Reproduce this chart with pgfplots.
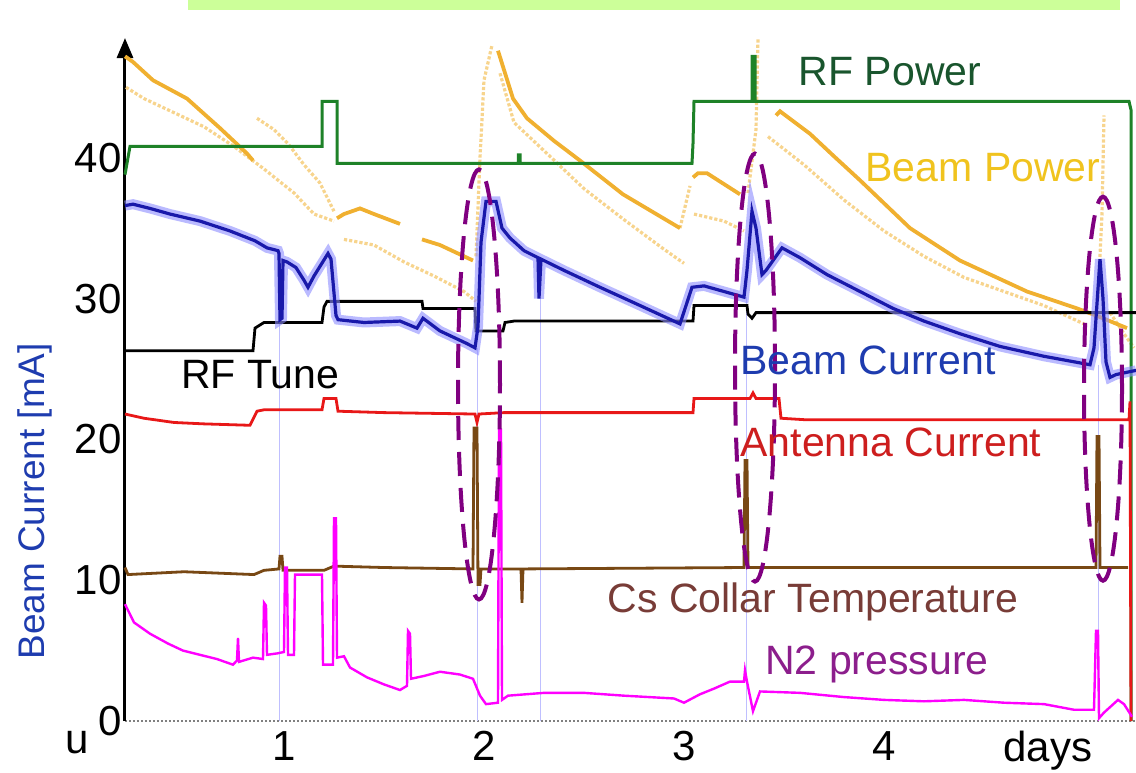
\documentclass[border=0pt]{standalone}
\usepackage{pgfplots}
\usepackage{pgfplotstable}
\pgfplotsset{compat=1.18}
\usepackage{fontspec}
\setmainfont{Liberation Sans}
\usetikzlibrary{arrows.meta}

\definecolor{rfpow}{RGB}{30,130,40}
\definecolor{rfpowtxt}{RGB}{25,85,45}
\definecolor{bpow}{RGB}{240,176,48}
\definecolor{bpowtxt}{RGB}{240,195,30}
\definecolor{bcur}{RGB}{25,25,170}
\definecolor{bcurtxt}{RGB}{30,60,175}
\definecolor{ant}{RGB}{232,24,24}
\definecolor{anttxt}{RGB}{205,30,30}
\definecolor{cs}{RGB}{120,72,20}
\definecolor{cstxt}{RGB}{120,60,55}
\definecolor{ntwo}{RGB}{255,0,255}
\definecolor{ntwotxt}{RGB}{140,30,140}
\definecolor{ell}{RGB}{128,0,128}
\definecolor{topbar}{RGB}{204,255,153}

% beam current [mA] vs days
\pgfplotstableread{
d v
0.205 36.6
0.245 36.7
0.33 36.4
0.43 36.0
0.58 35.5
0.73 34.8
0.855 34.1
0.915 33.6
0.97 33.4
0.975 33.2
0.98 28.5
0.99 28.6
0.995 32.7
1.015 32.6
1.06 32.2
1.1 31.3
1.12 30.8
1.15 31.6
1.22 33.2
1.235 32.8
1.26 28.8
1.27 28.5
1.4 28.3
1.58 28.4
1.665 27.9
1.695 28.6
1.78 27.7
1.915 26.8
1.955 26.5
1.97 28.0
1.985 34.0
2.01 36.9
2.06 36.9
2.09 35.0
2.13 34.3
2.2 33.4
2.27 32.9
2.275 30.0
2.285 32.8
2.4 32.0
2.58 30.8
2.75 29.7
2.98 28.2
3.01 29.5
3.04 30.8
3.1 30.9
3.2 30.5
3.3 30.1
3.315 32.0
3.34 36.2
3.36 35.0
3.39 31.7
3.41 32.0
3.49 33.6
3.58 32.9
3.715 31.7
3.88 30.5
4.045 29.3
4.2 28.4
4.38 27.5
4.58 26.6
4.8 25.9
5.03 25.3
5.05 26.5
5.08 32.8
5.095 30.0
5.11 25.5
5.13 24.4
5.16 24.6
5.26 24.9
}\beamcurrent

\pgfplotstableread{
d v
0.205 47.2
0.245 46.8
0.345 45.5
0.515 44.2
0.68 42.1
0.815 40.3
0.845 39.8
nan nan
1.265 35.7
1.3 36.0
1.38 36.4
1.45 36.0
1.58 35.3
nan nan
1.69 34.2
1.78 33.8
1.945 32.7
nan nan
2.07 47.6
2.145 44.2
2.215 42.8
2.35 41.2
2.48 39.8
2.695 37.4
2.98 35.0
nan nan
3.045 38.6
3.07 38.9
3.115 38.9
3.28 37.4
nan nan
3.46 43.0
3.48 43.3
3.63 41.7
3.75 40.1
3.88 38.4
4.13 35.0
4.38 32.7
4.715 30.5
4.965 29.3
5.06 28.8
5.215 27.9
}\beampower

\pgfplotstableread{
d v
0.21 45.0
0.3 44.2
0.45 43.2
0.6 42.2
0.75 40.8
0.9 39.2
1.05 37.5
1.15 36.0
1.25 35.5
nan nan
0.865 42.8
0.95 42.0
1.02 41.0
1.1 39.5
1.18 38.2
1.25 36.2
nan nan
1.3 34.2
1.45 33.8
1.6 32.6
1.75 31.6
1.9 30.5
1.96 29.8
nan nan
1.96 33.0
1.98 40.0
2.0 45.5
2.04 48.0
nan nan
2.08 46.0
2.15 42.5
2.3 40.5
2.5 37.8
2.7 35.6
2.9 33.5
3.0 32.5
nan nan
2.98 35.0
3.03 38.0
nan nan
3.05 36.0
3.2 35.5
3.3 34.8
nan nan
3.32 37.5
3.36 42.0
3.37 48.5
nan nan
3.42 41.5
3.6 39.5
3.8 37.0
4.0 34.8
4.2 33.0
4.4 31.5
4.6 30.5
4.8 29.5
5.0 28.2
nan nan
5.07 30.0
5.09 36.0
5.1 43.0
nan nan
5.13 29.0
5.2 27.5
5.25 26.5
}\beampowerdots

\pgfplotstableread{
d v
0.205 38.8
0.23 40.8
1.19 40.8
1.19 44.0
1.265 44.0
1.265 39.6
2.172 39.6
2.172 40.2
2.18 40.2
2.18 39.6
3.04 39.6
3.045 41.0
3.05 44.0
3.34 44.0
3.34 47.2
3.355 47.2
3.355 44.0
5.225 44.0
5.235 43.4
5.235 0
}\rfpower

\pgfplotstableread{
d v
0.205 26.3
0.845 26.3
0.855 27.9
0.9 28.3
1.19 28.3
1.2 29.4
1.215 29.8
1.69 29.8
1.695 29.3
1.955 29.3
1.96 27.7
2.095 27.7
2.105 28.3
2.15 28.4
3.045 28.4
3.05 29.5
3.315 29.5
3.32 28.9
3.34 28.6
3.36 29.0
5.26 29.0
}\rftune

\pgfplotstableread{
d v
0.205 21.8
0.3 21.5
0.45 21.2
0.6 21.1
0.83 21.0
0.865 22.0
0.9 22.1
1.19 22.1
1.2 22.9
1.26 22.9
1.27 22.0
1.5 21.9
1.955 21.8
1.965 21.2
1.975 21.8
2.1 21.9
3.045 21.9
3.05 22.9
3.33 22.9
3.345 23.3
3.36 22.9
3.475 22.9
3.485 21.5
3.6 21.4
5.0 21.4
5.225 21.4
5.23 22.7
5.235 0
}\antenna

\pgfplotstableread{
d v
0.205 10.9
0.22 10.4
0.5 10.6
0.85 10.4
0.9 10.7
0.975 10.8
0.98 11.7
0.99 11.7
0.995 10.7
1.2 10.7
1.25 11.0
1.5 10.9
1.945 10.8
1.95 20.8
1.965 20.8
1.97 9.7
1.98 9.7
1.985 10.8
2.185 10.8
2.19 8.4
2.195 10.8
3.3 10.9
3.305 18.5
3.315 18.5
3.32 10.9
5.06 10.9
5.065 20.2
5.075 20.2
5.08 10.9
5.22 10.9
}\cscollar

\pgfplotstableread{
d v
0.205 8.3
0.25 7.0
0.33 6.2
0.42 5.5
0.495 5.0
0.58 4.7
0.665 4.4
0.745 4.0
0.765 4.3
0.77 5.9
0.775 4.2
0.845 4.5
0.895 4.4
0.9 8.4
0.91 8.2
0.915 4.7
0.965 4.8
1.0 4.9
1.005 10.9
1.015 10.9
1.02 4.7
1.05 4.7
1.055 10.4
1.19 10.4
1.195 4.0
1.245 4.0
1.25 14.4
1.26 14.4
1.265 4.5
1.3 4.6
1.33 3.8
1.415 3.1
1.5 2.6
1.58 2.2
1.615 2.5
1.62 6.4
1.63 6.2
1.635 3.0
1.7 3.2
1.78 3.5
1.88 3.3
1.945 3.0
1.98 1.8
2.01 1.2
2.07 1.3
2.075 20.7
2.085 20.7
2.09 1.5
2.12 1.8
2.3 2.0
2.5 2.0
2.7 1.8
2.95 1.6
3.0 1.3
3.08 1.9
3.15 2.3
3.23 2.8
3.3 2.8
3.305 3.6
3.315 2.8
3.345 0.7
3.38 2.1
3.58 2.0
3.8 1.7
4.0 1.5
4.2 1.4
4.4 1.5
4.6 1.3
4.8 1.2
4.95 0.8
5.05 0.8
5.06 6.4
5.07 6.4
5.075 0.2
5.1 0.6
5.17 1.5
5.2 1.2
5.24 0.3
}\nitrogen

\pgfplotstableread{
d v
0.98 28.5
0.98 0
nan nan
1.965 26.5
1.965 0
nan nan
2.28 30.0
2.28 0
nan nan
3.31 30.1
3.31 0
nan nan
5.07 25.3
5.07 0
}\faint

\begin{document}
\begin{tikzpicture}
\begin{axis}[
  scale only axis,
  width=505.5pt, height=341.5pt,
  xmin=0.205, xmax=5.26, ymin=0, ymax=48.5,
  axis x line=bottom, axis y line=left,
  x axis line style={-, gray, densely dotted, line width=1pt},
  y axis line style={-{Triangle[length=10pt,width=8pt]}, black, line width=1.5pt},
  xtick={1,2,3,4,4.82}, xticklabels={1,2,3,4,days},
  ytick={0,10,20,30,40},
  major tick length=0pt, minor tick length=0pt,
  tick label style={font=\fontsize{21}{24}\selectfont, black},
  yticklabel style={inner sep=1.5pt},
  xticklabel style={inner sep=5pt},
  /pgf/number format/assume math mode=true,
  unbounded coords=jump,
  clip=false,
]
\coordinate (BL) at (axis cs:-0.42,-3.69);
\coordinate (TR) at (axis cs:5.26,51.2);
\fill[topbar] (axis cs:0.52,50.5) rectangle (axis cs:5.18,51.2);

\addplot[no marks, bpow!55, densely dotted, line width=1.6pt] table[x=d, y=v] {\beampowerdots};
\addplot[no marks, bpow, line width=1.9pt] table[x=d, y=v] {\beampower};
\addplot[no marks, rfpow, line width=1.5pt] table[x=d, y=v] {\rfpower};
\addplot[no marks, blue!25, line width=0.5pt] table[x=d, y=v] {\faint};
\addplot[no marks, black, line width=1.4pt] table[x=d, y=v] {\rftune};
\addplot[no marks, blue!45!white, opacity=0.6, line width=5pt] table[x=d, y=v] {\beamcurrent};
\addplot[no marks, bcur, line width=1.6pt] table[x=d, y=v] {\beamcurrent};
\addplot[no marks, ant, line width=1.4pt] table[x=d, y=v] {\antenna};
\addplot[no marks, cs, line width=1.4pt] table[x=d, y=v] {\cscollar};
\addplot[no marks, ntwo, line width=1.2pt] table[x=d, y=v] {\nitrogen};

\begin{scope}[ell, line width=2pt, dash pattern=on 12pt off 6pt]
\draw (axis cs:1.975,23.9) ellipse [x radius=10.5pt, y radius=107.5pt];
\draw (axis cs:3.355,25.1) ellipse [x radius=10pt, y radius=107pt];
\draw (axis cs:5.095,23.6) ellipse [x radius=9.5pt, y radius=96pt];
\end{scope}

\begin{scope}[font=\fontsize{20.5}{24}\selectfont]
\node[rfpowtxt] at (axis cs:4.03,46.1) {RF Power};
\node[bpowtxt] at (axis cs:4.495,39.3) {Beam Power};
\node[bcurtxt] at (axis cs:3.92,25.6) {Beam Current};
\node[black] at (axis cs:0.88,24.6) {RF Tune};
\node[anttxt] at (axis cs:4.035,19.8) {Antenna Current};
\node[cstxt] at (axis cs:3.645,8.45) {Cs Collar Temperature};
\node[ntwotxt] at (axis cs:3.965,4.0) {N2 pressure};
\end{scope}
\node[bcurtxt, rotate=90, font=\fontsize{18.5}{22}\selectfont] at (axis cs:-0.245,15.6) {Beam Current [mA]};
\node[anchor=north, inner sep=5pt, font=\fontsize{21}{24}\selectfont] at (axis cs:-0.035,0) {u};
\end{axis}
\pgfresetboundingbox
\path (BL) rectangle (TR);
\end{tikzpicture}
\end{document}
